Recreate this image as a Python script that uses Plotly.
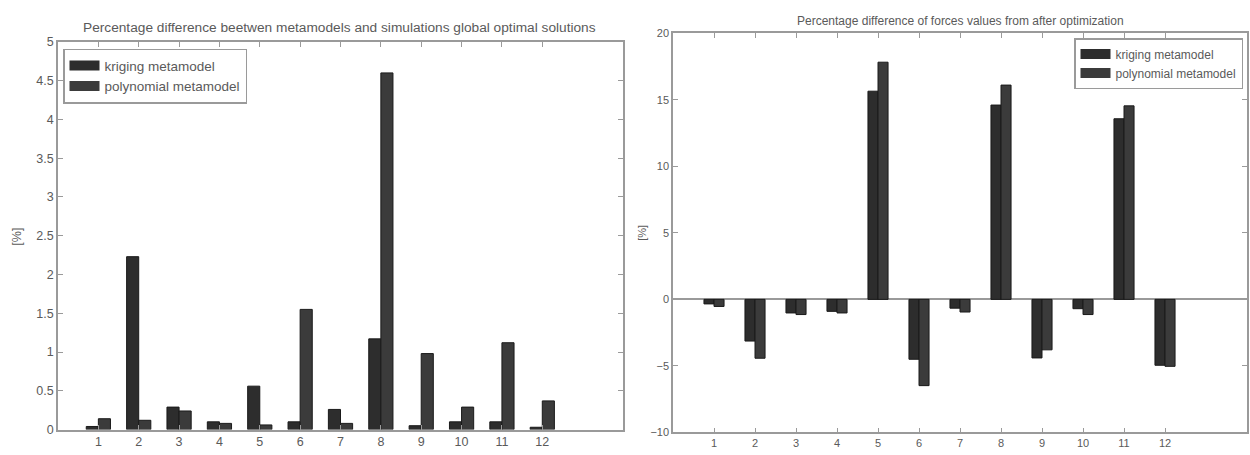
import plotly.graph_objects as go

categories = [1, 2, 3, 4, 5, 6, 7, 8, 9, 10, 11, 12]

# Left chart: percentage difference between metamodels and simulations
left_kriging = [0.04, 2.23, 0.29, 0.10, 0.56, 0.10, 0.26, 1.17, 0.05, 0.10, 0.10, 0.03]
left_polynomial = [0.14, 0.12, 0.24, 0.08, 0.06, 1.55, 0.08, 4.60, 0.98, 0.29, 1.12, 0.37]

# Right chart: percentage difference of forces values
right_kriging = [-0.34, -3.13, -1.02, -0.90, 15.64, -4.50, -0.66, 14.60, -4.40, -0.70, 13.57, -4.95]
right_polynomial = [-0.53, -4.42, -1.14, -1.02, 17.82, -6.48, -0.95, 16.10, -3.79, -1.14, 14.54, -5.03]

series_names = ["kriging metamodel", "polynomial metamodel"]
left_title = "Percentage difference beetwen metamodels and simulations global optimal solutions"
right_title = "Percentage difference of forces values from after optimization"
y_label = "[%]"

W, H = 1250, 455
FONT = "Liberation Sans, Arial, sans-serif"
TXT = "#5a5a5a"
AX = "#9a9a9a"
C_KRIG = "#2d2d2d"
C_POLY = "#3b3b3b"
EDGE = "#1a1a1a"


def px_x(p):
    return p / W


def px_y(p):
    return 1 - p / H


fig = go.Figure()

# left bars
lw = 0.30
fig.add_trace(go.Bar(x=categories, y=left_kriging, name=series_names[0], width=lw, offset=-lw,
                     marker=dict(color=C_KRIG, line=dict(color=EDGE, width=1)),
                     xaxis="x", yaxis="y", legendgroup="lk", showlegend=False))
fig.add_trace(go.Bar(x=categories, y=left_polynomial, name=series_names[1], width=lw, offset=0,
                     marker=dict(color=C_POLY, line=dict(color=EDGE, width=1)),
                     xaxis="x", yaxis="y", legendgroup="lp", showlegend=False))

# right bars
rw = 0.245
fig.add_trace(go.Bar(x=categories, y=right_kriging, name=series_names[0], width=rw, offset=-rw,
                     marker=dict(color=C_KRIG, line=dict(color=EDGE, width=1)),
                     xaxis="x2", yaxis="y2", legendgroup="rk", showlegend=False))
fig.add_trace(go.Bar(x=categories, y=right_polynomial, name=series_names[1], width=rw, offset=0,
                     marker=dict(color=C_POLY, line=dict(color=EDGE, width=1)),
                     xaxis="x2", yaxis="y2", legendgroup="rp", showlegend=False))

# legend entries with wide rectangular swatches (MATLAB style)
for name, col, grp, leg, xa, ya, lwid in [
    (series_names[0], C_KRIG, "lk", "legend", "x", "y", 14),
    (series_names[1], C_POLY, "lp", "legend", "x", "y", 14),
    (series_names[0], C_KRIG, "rk", "legend2", "x2", "y2", 12),
    (series_names[1], C_POLY, "rp", "legend2", "x2", "y2", 12),
]:
    fig.add_trace(go.Scatter(x=[None], y=[None], mode="lines", name=name,
                             line=dict(color=col, width=lwid), legendgroup=grp,
                             legend=leg, xaxis=xa, yaxis=ya, hoverinfo="skip"))

axis_common = dict(showline=True, linecolor=AX, linewidth=1.5, mirror="ticks",
                   ticks="inside", ticklen=5, tickcolor=AX, tickwidth=1,
                   showgrid=False)

fig.update_layout(
    width=W, height=H,
    margin=dict(l=0, r=0, t=0, b=0),
    paper_bgcolor="white", plot_bgcolor="white",
    barmode="group",
    font=dict(family=FONT, color=TXT, size=11),
    xaxis=dict(domain=[px_x(58), px_x(623)], range=[0, 14], tickvals=categories,
               ticktext=[str(c) for c in categories], anchor="y", zeroline=False,
               tickfont=dict(size=12.5, color=TXT), **axis_common),
    yaxis=dict(domain=[px_y(436), px_y(36)], range=[0, 5], dtick=0.5, anchor="x",
               zeroline=False, tickfont=dict(size=12.5, color=TXT), **axis_common),
    xaxis2=dict(domain=[px_x(673), px_x(1247)], range=[0, 14], tickvals=categories,
                ticktext=[str(c) for c in categories], anchor="y2", zeroline=False,
                tickfont=dict(size=11, color=TXT), **axis_common),
    yaxis2=dict(domain=[px_y(439), px_y(27)], range=[-10, 20], dtick=5, anchor="x2",
                zeroline=True, zerolinecolor=AX, zerolinewidth=1.5,
                tickfont=dict(size=11, color=TXT), **axis_common),
    legend=dict(x=px_x(63), y=px_y(43), xanchor="left", yanchor="top",
                bgcolor="white", bordercolor=AX, borderwidth=1.5,
                font=dict(size=13.5, color=TXT), tracegroupgap=0, itemwidth=30),
    legend2=dict(x=px_x(1243), y=px_y(32), xanchor="right", yanchor="top",
                 bgcolor="white", bordercolor=AX, borderwidth=1.5,
                 font=dict(size=12, color=TXT), tracegroupgap=0, itemwidth=30),
    annotations=[
        dict(text=left_title, x=px_x(339), y=px_y(21), xref="paper", yref="paper",
             showarrow=False, xanchor="center", yanchor="middle",
             font=dict(size=13.7, color=TXT)),
        dict(text=right_title, x=px_x(960), y=px_y(14), xref="paper", yref="paper",
             showarrow=False, xanchor="center", yanchor="middle",
             font=dict(size=12, color=TXT)),
        dict(text=y_label, x=px_x(17), y=px_y(237), xref="paper", yref="paper",
             showarrow=False, textangle=-90, xanchor="center", yanchor="middle",
             font=dict(size=12.5, color=TXT)),
        dict(text=y_label, x=px_x(642), y=px_y(233), xref="paper", yref="paper",
             showarrow=False, textangle=-90, xanchor="center", yanchor="middle",
             font=dict(size=11, color=TXT)),
    ],
)

fig.write_html(
    "out.html",
    config={"displayModeBar": False},
    post_script="document.body.style.margin='0';document.body.style.padding='0';"
                "document.body.style.overflow='hidden';",
)
